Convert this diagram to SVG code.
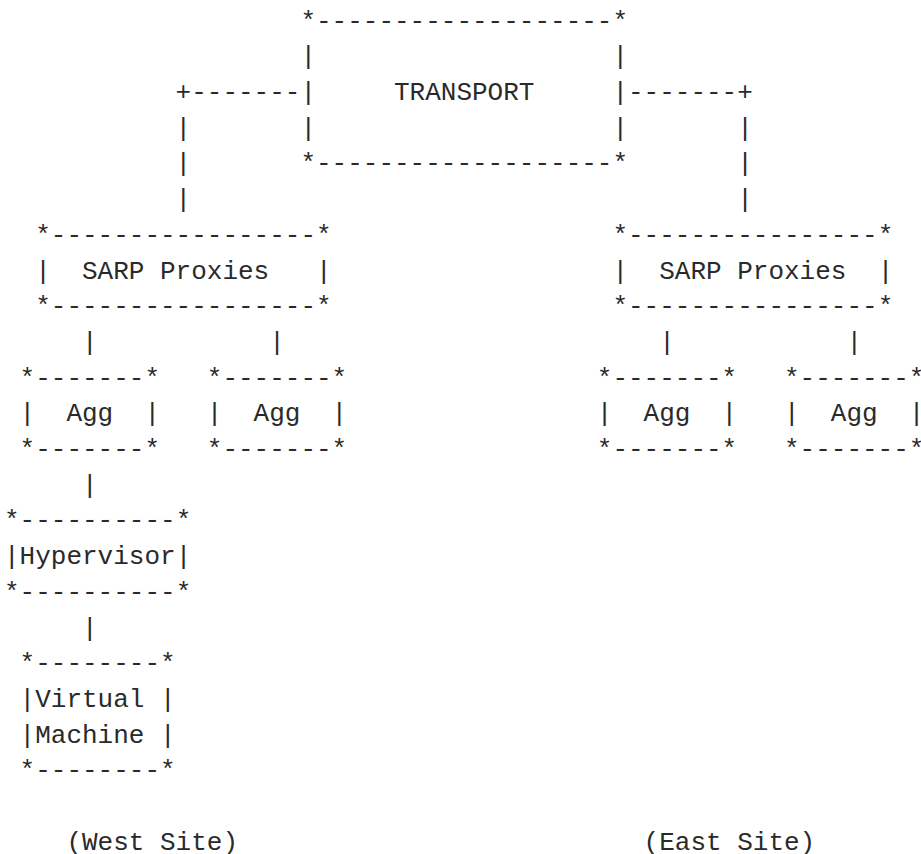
<svg xmlns="http://www.w3.org/2000/svg" width="921" height="854" viewBox="0 0 921 854">
<style>
text { font-family: "Liberation Mono", "DejaVu Sans Mono", monospace; font-size: 26px; fill: #2a2a2a; white-space: pre; }
</style>
<rect width="921" height="854" fill="#ffffff"/>
<g id="transport" xml:space="preserve">
<text x="300.4" y="28.6">*-------------------*</text>
<text x="300.4" y="64.3">|                   |</text>
<text x="300.4" y="100">|     TRANSPORT     |</text>
<text x="300.4" y="135.7">|                   |</text>
<text x="300.4" y="171.4">*-------------------*</text>
</g>
<g id="connectors" xml:space="preserve">
<text x="175.6" y="100">+-------</text>
<text x="628" y="100">-------+</text>
<text x="175.6" y="135.7">|</text>
<text x="737.2" y="135.7">|</text>
<text x="175.6" y="171.4">|</text>
<text x="737.2" y="171.4">|</text>
<text x="175.6" y="207.1">|</text>
<text x="737.2" y="207.1">|</text>
<text x="82" y="349.9">|</text>
<text x="269.2" y="349.9">|</text>
<text x="659.2" y="349.9">|</text>
<text x="846.4" y="349.9">|</text>
<text x="82" y="492.7">|</text>
<text x="82" y="635.5">|</text>
</g>
<g id="west-sarp" xml:space="preserve">
<text x="35.2" y="242.8">*-----------------*</text>
<text x="35.2" y="278.5">|  SARP Proxies   |</text>
<text x="35.2" y="314.2">*-----------------*</text>
</g>
<g id="east-sarp" xml:space="preserve">
<text x="612.4" y="242.8">*----------------*</text>
<text x="612.4" y="278.5">|  SARP Proxies  |</text>
<text x="612.4" y="314.2">*----------------*</text>
</g>
<g id="west-agg-1" xml:space="preserve">
<text x="19.6" y="385.6">*-------*</text>
<text x="19.6" y="421.3">|  Agg  |</text>
<text x="19.6" y="457">*-------*</text>
</g>
<g id="west-agg-2" xml:space="preserve">
<text x="206.8" y="385.6">*-------*</text>
<text x="206.8" y="421.3">|  Agg  |</text>
<text x="206.8" y="457">*-------*</text>
</g>
<g id="east-agg-1" xml:space="preserve">
<text x="596.8" y="385.6">*-------*</text>
<text x="596.8" y="421.3">|  Agg  |</text>
<text x="596.8" y="457">*-------*</text>
</g>
<g id="east-agg-2" xml:space="preserve">
<text x="784" y="385.6">*-------*</text>
<text x="784" y="421.3">|  Agg  |</text>
<text x="784" y="457">*-------*</text>
</g>
<g id="hypervisor" xml:space="preserve">
<text x="4" y="528.4">*----------*</text>
<text x="4" y="564.1">|Hypervisor|</text>
<text x="4" y="599.8">*----------*</text>
</g>
<g id="virtual-machine" xml:space="preserve">
<text x="19.6" y="671.2">*--------*</text>
<text x="19.6" y="706.9">|Virtual |</text>
<text x="19.6" y="742.6">|Machine |</text>
<text x="19.6" y="778.3">*--------*</text>
</g>
<g id="site-labels" xml:space="preserve">
<text x="66.4" y="849.7">(West Site)</text>
<text x="643.6" y="849.7">(East Site)</text>
</g>
</svg>
